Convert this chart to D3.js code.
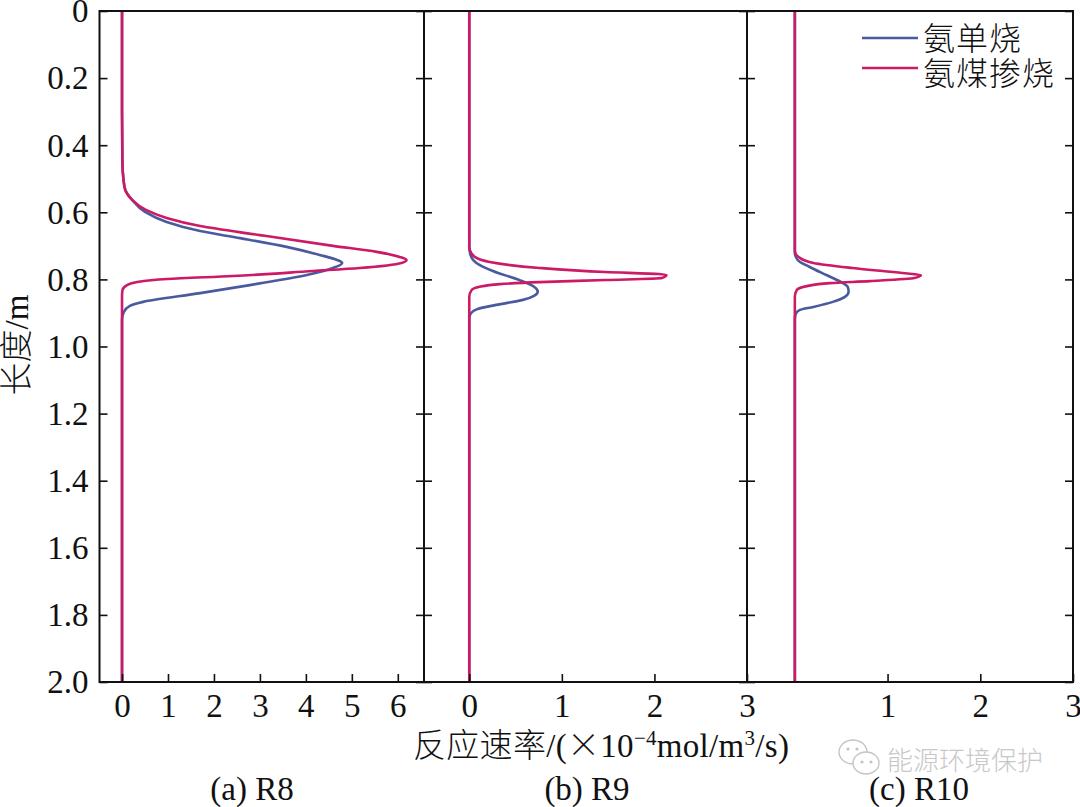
<!DOCTYPE html>
<html>
<head>
<meta charset="utf-8">
<script src="https://cdn.jsdelivr.net/npm/d3@7"></script>
<style>
  html, body { margin: 0; padding: 0; background: #fff; }
  text { font-family: "Liberation Serif", "Noto Sans CJK SC", serif; fill: #111; }
  .cjk { font-family: "Noto Sans CJK SC", sans-serif; font-weight: 300; }
</style>
</head>
<body>
<div id="chart"></div>
<script>
// length along the reactor (m) and rate (x10^-4 mol/m3/s)
const r8SingleLen = [0, 0.3, 0.45, 0.5, 0.533, 0.563, 0.599, 0.629, 0.656, 0.677, 0.703, 0.727, 0.742, 0.751, 0.766, 0.787, 0.817, 0.841, 0.867, 0.879, 0.897, 0.92, 2];
const r8SingleVal = [0, 0, 0.008, 0.03, 0.07, 0.22, 0.5, 0.97, 1.7, 2.57, 3.58, 4.3, 4.68, 4.79, 4.59, 4.02, 2.78, 1.7, 0.46, 0.17, 0.04, 0, 0];
const r8MixLen = [0, 0.3, 0.45, 0.5, 0.533, 0.563, 0.593, 0.617, 0.641, 0.668, 0.7, 0.718, 0.733, 0.742, 0.751, 0.766, 0.775, 0.79, 0.799, 0.808, 0.817, 0.832, 0.85, 2];
const r8MixVal = [0, 0, 0.008, 0.03, 0.07, 0.22, 0.52, 0.97, 1.7, 3.0, 4.59, 5.54, 6.04, 6.19, 6.08, 5.17, 4.15, 2.41, 0.98, 0.33, 0.11, 0.01, 0, 0];

const r9SingleLen = [0, 0.703, 0.727, 0.751, 0.775, 0.802, 0.822, 0.837, 0.849, 0.861, 0.876, 0.888, 0.9, 0.915, 2];
const r9SingleVal = [0, 0, 0.013, 0.077, 0.255, 0.54, 0.7, 0.74, 0.7, 0.58, 0.29, 0.09, 0.02, 0, 0];
const r9MixLen = [0, 0.703, 0.712, 0.733, 0.748, 0.766, 0.778, 0.784, 0.787, 0.796, 0.802, 0.808, 0.814, 0.822, 0.832, 0.852, 2];
const r9MixVal = [0, 0, 0.005, 0.06, 0.22, 0.76, 1.47, 2.05, 2.13, 2.08, 1.47, 0.76, 0.33, 0.11, 0.025, 0, 0];

const r10SingleLen = [0, 0.721, 0.742, 0.763, 0.787, 0.808, 0.822, 0.837, 0.852, 0.867, 0.882, 0.891, 0.903, 0.92, 2];
const r10SingleVal = [0, 0, 0.03, 0.16, 0.34, 0.5, 0.57, 0.58, 0.54, 0.41, 0.2, 0.054, 0.01, 0, 0];
const r10MixLen = [0, 0.715, 0.736, 0.751, 0.766, 0.781, 0.787, 0.796, 0.805, 0.811, 0.82, 0.832, 0.852, 2];
const r10MixVal = [0, 0, 0.054, 0.2, 0.62, 1.16, 1.36, 1.29, 0.81, 0.376, 0.13, 0.02, 0, 0];

const lengthTicks = [0, 0.2, 0.4, 0.6, 0.8, 1.0, 1.2, 1.4, 1.6, 1.8, 2.0];
const lengthLabels = ["0", "0.2", "0.4", "0.6", "0.8", "1.0", "1.2", "1.4", "1.6", "1.8", "2.0"];
const r8Ticks = [0, 1, 2, 3, 4, 5, 6];
const r9Ticks = [0, 1, 2, 3];
const r10Ticks = [1, 2, 3];
const legendNames = ["氨单烧", "氨煤掺烧"];
const seriesColors = ["#4a5a9e", "#cc1a66"];

const chartW = 1080, chartH = 807;
const plotTop = 11, plotBottom = 682;

const svg = d3.select("#chart").append("svg")
  .attr("width", chartW).attr("height", chartH)
  .style("display", "block");

const y = d3.scaleLinear().domain([0, 2]).range([plotTop, plotBottom]);

const panels = [
  { left: 99.5, right: 424, domain: [-0.49, 6.57], ticks: r8Ticks, title: "(a) R8", titleX: 252,
    single: [r8SingleLen, r8SingleVal], mix: [r8MixLen, r8MixVal] },
  { left: 424, right: 747, domain: [-0.489, 3], ticks: r9Ticks, title: "(b) R9", titleX: 587,
    single: [r9SingleLen, r9SingleVal], mix: [r9MixLen, r9MixVal] },
  { left: 747, right: 1073, domain: [-0.516, 3], ticks: r10Ticks, title: "(c) R10", titleX: 919,
    single: [r10SingleLen, r10SingleVal], mix: [r10MixLen, r10MixVal] }
];

panels.forEach(function (p, i) {
  const x = d3.scaleLinear().domain(p.domain).range([p.left, p.right]);

  // length only ever increases, so the curve can be monotone in y (no overshoot)
  const line = d3.line()
    .x(function (d) { return x(d[1]); })
    .y(function (d) { return y(d[0]); })
    .curve(d3.curveMonotoneY);

  [p.single, p.mix].forEach(function (s, k) {
    svg.append("path")
      .datum(d3.zip(s[0], s[1]))
      .attr("d", line)
      .attr("fill", "none")
      .attr("stroke", seriesColors[k])
      .attr("stroke-width", 2.6);
  });

  // frame
  svg.append("rect")
    .attr("x", p.left).attr("y", plotTop)
    .attr("width", p.right - p.left).attr("height", plotBottom - plotTop)
    .attr("fill", "none").attr("stroke", "#111").attr("stroke-width", 2);

  // inward ticks on both sides
  const leftAxis = d3.axisLeft(y).tickValues(lengthTicks).tickSize(-8)
    .tickFormat(function (d, j) { return i === 0 ? lengthLabels[j] : ""; });
  const gl = svg.append("g").attr("transform", "translate(" + p.left + ",0)").call(leftAxis);
  const rightAxis = d3.axisRight(y).tickValues(lengthTicks).tickSize(-8).tickFormat("");
  const gr = svg.append("g").attr("transform", "translate(" + p.right + ",0)").call(rightAxis);

  const bottomAxis = d3.axisBottom(x).tickValues(p.ticks).tickSize(-8).tickFormat(d3.format("d"));
  const gb = svg.append("g").attr("transform", "translate(0," + plotBottom + ")").call(bottomAxis);

  [gl, gr, gb].forEach(function (g) {
    g.select(".domain").remove();
    g.attr("font-family", null);
    g.selectAll("line").attr("stroke", "#111").attr("stroke-width", 1.6);
    g.selectAll("text").style("font-size", "33px");
  });
  gl.selectAll("text").attr("x", -11).attr("dy", "0.33em");
  gb.selectAll("text").attr("y", 12).attr("dy", "0.71em");

  svg.append("text")
    .attr("x", p.titleX).attr("y", 800)
    .attr("text-anchor", "middle")
    .style("font-size", "33px")
    .text(p.title);
});

// y axis title
svg.append("text")
  .attr("transform", "translate(28,345) rotate(-90)")
  .attr("text-anchor", "middle")
  .style("font-size", "33px")
  .html('<tspan class="cjk">长度</tspan>/m');

// x axis title
svg.append("text")
  .attr("x", 413).attr("y", 757)
  .style("font-size", "33px")
  .style("letter-spacing", "0.3px")
  .html('<tspan class="cjk">反应速率</tspan>/(<tspan class="cjk">×</tspan>10<tspan dy="-12" style="font-size:21px">−4</tspan><tspan dy="12">mol/m</tspan><tspan dy="-12" style="font-size:21px">3</tspan><tspan dy="12">/s)</tspan>');

// legend
const legendLineY = [38, 68];
const legendTextY = [50, 85];
legendNames.forEach(function (name, i) {
  svg.append("line")
    .attr("x1", 862).attr("x2", 918)
    .attr("y1", legendLineY[i]).attr("y2", legendLineY[i])
    .attr("stroke", seriesColors[i]).attr("stroke-width", 2.6);
  svg.append("text")
    .attr("class", "cjk")
    .attr("x", 923).attr("y", legendTextY[i])
    .style("font-size", "32px")
    .style("letter-spacing", "1px")
    .text(name);
});

// watermark
const wm = svg.append("g").attr("fill", "#fff").attr("stroke", "#c4c4c4").attr("stroke-width", 1.4);
wm.append("ellipse").attr("cx", 853).attr("cy", 752).attr("rx", 14).attr("ry", 12);
wm.append("ellipse").attr("cx", 866).attr("cy", 763).attr("rx", 13).attr("ry", 11);
wm.selectAll("circle").data([[848, 749], [857, 749], [862, 762], [871, 762]]).enter().append("circle")
  .attr("cx", function (d) { return d[0]; }).attr("cy", function (d) { return d[1]; })
  .attr("r", 1.6).attr("fill", "#c4c4c4").attr("stroke", "none");
svg.append("text")
  .attr("class", "cjk")
  .attr("x", 887).attr("y", 770)
  .style("font-size", "26px")
  .style("fill", "#c8c8c8")
  .text("能源环境保护");
</script>
</body>
</html>
